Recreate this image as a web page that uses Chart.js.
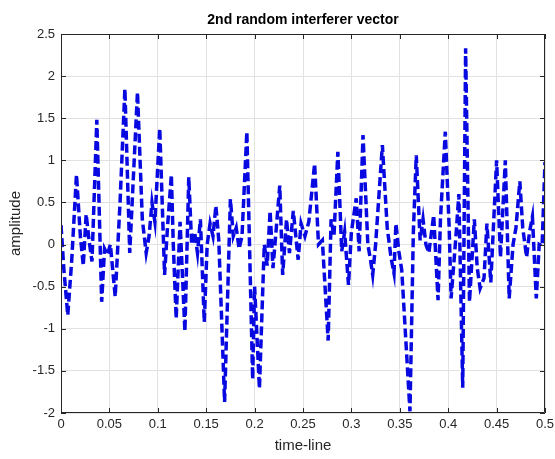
<!DOCTYPE html>
<html>
<head>
<meta charset="utf-8">
<script src="https://cdn.jsdelivr.net/npm/chart.js@4.4.1/dist/chart.umd.min.js"></script>
<style>
  body { margin: 0; background: #fff; }
  #wrap { width: 555px; height: 459px; }
</style>
</head>
<body>
<div id="wrap"><canvas id="grafico" width="555" height="459"></canvas></div>
<script>
// Datos (extremos de la senal)
const tiempo = [0.000, 0.003, 0.007, 0.011, 0.016, 0.020, 0.023, 0.026, 0.029, 0.032,
    0.037, 0.042, 0.045, 0.048, 0.051, 0.056, 0.061, 0.066, 0.071, 0.079,
    0.084, 0.088, 0.091, 0.094, 0.097, 0.102, 0.107, 0.110, 0.114, 0.116,
    0.119, 0.123, 0.128, 0.132, 0.135, 0.138, 0.141, 0.144, 0.148, 0.151,
    0.154, 0.157, 0.160, 0.163, 0.169, 0.175, 0.178, 0.181, 0.184, 0.187,
    0.192, 0.198, 0.200, 0.205, 0.210, 0.213, 0.216, 0.219, 0.226, 0.229,
    0.233, 0.236, 0.240, 0.245, 0.248, 0.252, 0.256, 0.262, 0.266, 0.270,
    0.276, 0.279, 0.282, 0.286, 0.290, 0.293, 0.297, 0.300, 0.305, 0.308,
    0.312, 0.317, 0.320, 0.322, 0.325, 0.332, 0.337, 0.341, 0.344, 0.346,
    0.349, 0.352, 0.3605, 0.364, 0.367, 0.371, 0.374, 0.377, 0.380, 0.385,
    0.3895, 0.392, 0.397, 0.401, 0.403, 0.408, 0.411, 0.415, 0.418, 0.422,
    0.427, 0.430, 0.433, 0.437, 0.440, 0.444, 0.450, 0.454, 0.459, 0.463,
    0.467, 0.470, 0.474, 0.477, 0.481, 0.484, 0.487, 0.491, 0.494, 0.497,
    0.500];
const amplitud = [0.23, -0.3, -0.84, -0.2, 0.83, 0.1, -0.25, 0.36, 0.05, -0.2,
    1.48, -0.68, -0.05, -0.12, 0.0, -0.62, 0.5, 1.85, -0.1, 1.81,
    0.3, -0.1, 0.1, 0.5, 0.27, 1.38, -0.36, 0.2, 0.83, 0.0,
    -0.88, 0.27, -1.03, 0.8, 0.0, 0.15, -0.1, 0.3, -0.92, 0.0,
    0.25, 0.1, 0.46, 0.05, -1.87, 0.54, 0.1, 0.2, -0.05, 0.1,
    1.34, -1.6, -0.5, -1.71, 0.0, -0.25, 0.4, -0.28, 0.7, -0.36,
    0.3, -0.1, 0.4, -0.18, 0.25, 0.1, 0.27, 0.96, 0.0, 0.05,
    -1.14, 0.3, 0.1, 1.1, -0.08, 0.15, -0.48, 0.15, 0.55, -0.08,
    1.3, 0.0, -0.2, -0.36, 0.0, 1.18, 0.2, -0.16, -0.34, 0.25,
    -0.08, -0.3, -1.98, 0.15, 1.06, 0.05, 0.3, 0.0, -0.1, 0.35,
    -0.66, 0.3, 1.34, 0.2, -0.64, 0.1, 0.6, -1.7, 2.33, -0.68,
    0.3, -0.28, -0.52, -0.4, 0.25, -0.45, 1.0, -0.15, 1.0, -0.64,
    0.0, 0.2, 0.75, 0.2, -0.15, 0.15, 0.33, -0.64, 0.0, -0.02,
    0.98];
const ticksX = [0, 0.05, 0.1, 0.15, 0.2, 0.25, 0.3, 0.35, 0.4, 0.45, 0.5];
const ticksY = [-2, -1.5, -1, -0.5, 0, 0.5, 1, 1.5, 2, 2.5];

const colorTexto = '#262626';
const fuente = '"Liberation Sans", Arial, sans-serif';

// Marco, marcas interiores y textos al estilo MATLAB
const marcoPlugin = {
    id: 'marco',
    afterDraw(chart) {
        const { ctx, chartArea: a, scales } = chart;
        ctx.save();
        ctx.strokeStyle = colorTexto;
        ctx.lineWidth = 1;
        ctx.beginPath();
        ctx.rect(a.left + 0.5, a.top + 0.5, a.right - a.left - 1, a.bottom - a.top - 1);
        ctx.stroke();
        ctx.beginPath();
        ticksX.forEach(v => {
            const x = Math.round(scales.x.getPixelForValue(v)) + 0.5;
            ctx.moveTo(x, a.bottom); ctx.lineTo(x, a.bottom - 5);
            ctx.moveTo(x, a.top); ctx.lineTo(x, a.top + 5);
        });
        ticksY.forEach(v => {
            const y = Math.round(scales.y.getPixelForValue(v)) + 0.5;
            ctx.moveTo(a.left, y); ctx.lineTo(a.left + 5, y);
            ctx.moveTo(a.right, y); ctx.lineTo(a.right - 5, y);
        });
        ctx.stroke();

        ctx.fillStyle = '#000';
        ctx.textAlign = 'center';
        ctx.textBaseline = 'middle';
        ctx.font = 'bold 14px ' + fuente;
        ctx.fillText('2nd random interferer vector', (a.left + a.right) / 2, 20);
        ctx.fillStyle = colorTexto;
        ctx.font = '15px ' + fuente;
        ctx.fillText('time-line', (a.left + a.right) / 2, 446);
        ctx.translate(16, (a.top + a.bottom) / 2);
        ctx.rotate(-Math.PI / 2);
        ctx.fillText('amplitude', 0, 0);
        ctx.restore();
    }
};

const puntos = tiempo.map((t, i) => ({ x: t, y: amplitud[i] }));

new Chart(document.getElementById('grafico').getContext('2d'), {
    type: 'line',
    data: {
        datasets: [{
            data: puntos,
            borderColor: 'rgb(8, 8, 225)',
            borderWidth: 3.5,
            borderDash: [9, 4],
            pointRadius: 0,
            tension: 0,
            fill: false
        }]
    },
    options: {
        responsive: false,
        animation: false,
        layout: { padding: { left: 0, right: 10, top: 34, bottom: 0 } },
        plugins: { legend: { display: false }, tooltip: { enabled: false } },
        scales: {
            x: {
                type: 'linear',
                min: 0,
                max: 0.5,
                afterFit: s => { s.height = 46; s.paddingLeft = 0; s.paddingRight = 0; },
                afterBuildTicks: s => { s.ticks = ticksX.map(v => ({ value: v })); },
                ticks: {
                    color: colorTexto,
                    font: { family: fuente, size: 13 },
                    padding: 4,
                    maxRotation: 0,
                    callback: v => String(Number(v.toFixed(2)))
                },
                grid: { color: '#e2e2e2', drawTicks: false },
                border: { display: false }
            },
            y: {
                min: -2,
                max: 2.5,
                afterFit: s => { s.width = 61; s.paddingTop = 0; s.paddingBottom = 0; },
                afterBuildTicks: s => { s.ticks = ticksY.map(v => ({ value: v })); },
                ticks: {
                    color: colorTexto,
                    font: { family: fuente, size: 13 },
                    padding: 6,
                    callback: v => String(Number(v.toFixed(1)))
                },
                grid: { color: '#e2e2e2', drawTicks: false },
                border: { display: false }
            }
        }
    },
    plugins: [marcoPlugin]
});
</script>
</body>
</html>
